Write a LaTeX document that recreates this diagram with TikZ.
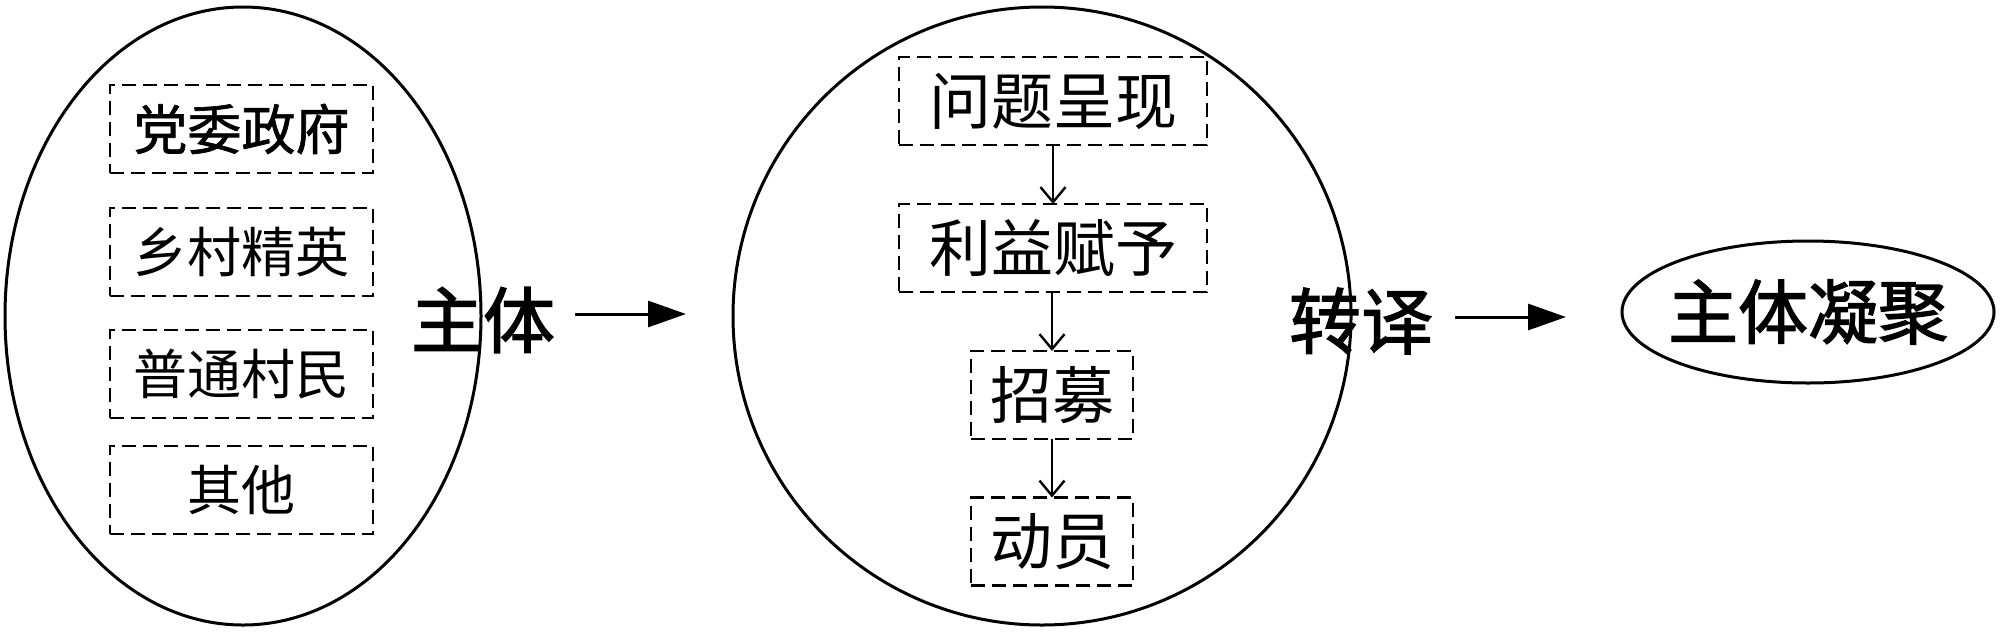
\documentclass[tikz,border=0pt]{standalone}
\usepackage{fontspec}
\newfontfamily\cjk{Noto Sans CJK SC}
\newfontfamily\cjkfb[FakeBold=1.2]{Noto Sans CJK SC}
\newfontfamily\cjkhb[FakeBold=1.8]{Noto Sans CJK SC}
\usetikzlibrary{shapes.geometric,arrows.meta}
\begin{document}
\begin{tikzpicture}[x=0.5pt,y=-0.5pt,
  oval/.style={draw,line width=1.5pt,ellipse,inner sep=0pt,outer sep=0pt},
  dbox/.style={draw,line width=1.4pt,dash pattern=on 7pt off 3.5pt,inner sep=0pt,outer sep=0pt,minimum height=44pt},
  lbox/.style={dbox,minimum width=131.5pt,font=\cjk\fontsize{27}{27}\selectfont},
  cbox/.style={dbox,minimum width=154pt,font=\cjk\fontsize{31}{31}\selectfont},
  sbox/.style={dbox,minimum width=81pt,font=\cjk\fontsize{31}{31}\selectfont},
  head/.style={inner sep=0pt,outer sep=0pt,font=\cjkhb\fontsize{36}{36}\selectfont},
  flow/.style={line width=1.2pt,-{Straight Barb[length=7.5pt,width=12.5pt]}},
  big/.style={line width=1.5pt,-{Triangle[length=19pt,width=13pt]}}]
\useasboundingbox (0,0) rectangle (2000,632);
% left ellipse
\node[oval,minimum width=238pt,minimum height=309pt] (left) at (243,316) {};
\node[lbox,font=\cjkfb\fontsize{27}{27}\selectfont] (b1) at (241.5,129) {党委政府};
\node[lbox] (b2) at (241.5,252) {乡村精英};
\node[lbox] (b3) at (241.5,374) {普通村民};
\node[lbox] (b4) at (241.5,490) {其他};
% label
\node[head] (zt) at (483,320) {主体};
% circle
\node[oval,minimum width=309pt,minimum height=309pt] (circ) at (1042,316) {};
\node[cbox] (c1) at (1053,101) {问题呈现};
\node[cbox] (c2) at (1053,248) {利益赋予};
\node[sbox] (c3) at (1052,395) {招募};
\node[sbox] (c4) at (1052,541.5) {动员};
\draw[flow] (c1.south) -- (c1.south |- c2.north);
\draw[flow] (c2.south -| c3.north) -- (c3.north);
\draw[flow] (c3.south) -- (c4.north);
\node[head] (zy) at (1361,321) {转译};
% final ellipse
\node[oval,minimum width=186pt,minimum height=71pt] (fin) at (1808,312) {};
\node[head,font=\cjkhb\fontsize{35}{35}\selectfont] (fint) at (fin.center) {主体凝聚};
% big arrows
\coordinate (a1s) at (575,314);
\coordinate (a1e) at (686,314);
\draw[big] (a1s) -- (a1e);
\coordinate (a2s) at (1455,317);
\coordinate (a2e) at (1566,317);
\draw[big] (a2s) -- (a2e);
\end{tikzpicture}
\end{document}
